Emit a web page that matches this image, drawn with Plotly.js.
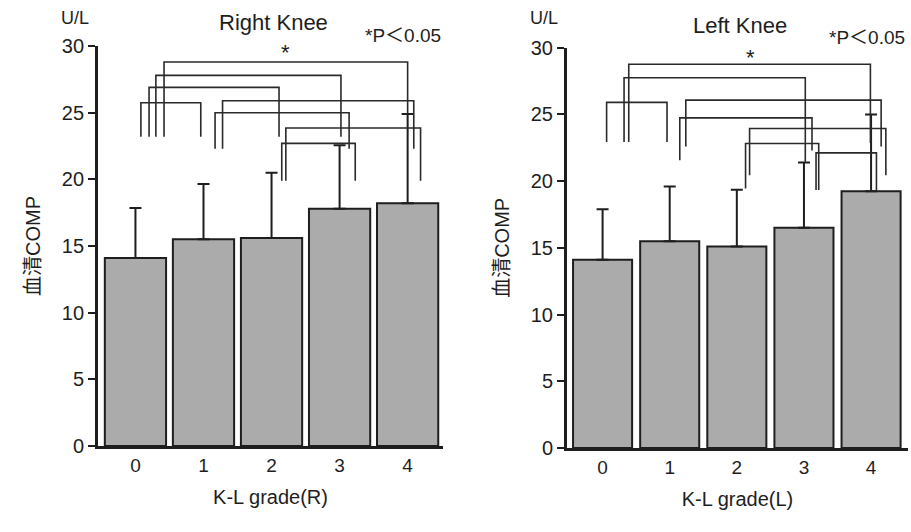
<!DOCTYPE html>
<html>
<head>
<meta charset="utf-8">
<script src="https://cdn.plot.ly/plotly-3.0.1.min.js"></script>
<style>html,body{margin:0;padding:0;background:#fff;}#chart{width:911px;height:532px;}</style>
</head>
<body>
<div id="chart"></div>
<script>
// ---- data ----
const grades = [0, 1, 2, 3, 4];
const gradeLabels = ['0', '1', '2', '3', '4'];
const yTicks = [0, 5, 10, 15, 20, 25, 30];

const rightMean = [14.1, 15.5, 15.6, 17.8, 18.2];
const rightSD   = [3.75, 4.15, 4.9, 4.75, 6.7];
const leftMean  = [14.1, 15.5, 15.1, 16.5, 19.25];
const leftSD    = [3.8, 4.1, 4.25, 4.9, 5.75];

// significance brackets (grade pairs), right knee
const rBrFrom   = [0, 0, 0, 0, 1, 1, 2, 2];
const rBrTo     = [4, 3, 2, 1, 4, 3, 4, 3];
const rBrY      = [28.8, 27.8, 26.9, 25.75, 25.9, 25.0, 23.85, 22.7];
const rBrX1     = [0.42, 0.30, 0.20, 0.08, 1.28, 1.17, 2.21, 2.15];
const rBrX2     = [4.00, 3.02, 2.11, 0.96, 4.09, 3.14, 4.19, 3.23];
const rBrLeg1   = [23.2, 23.2, 23.2, 23.2, 22.3, 22.3, 19.9, 19.9];
const rBrLeg2   = [24.9, 23.2, 23.2, 23.2, 22.3, 22.3, 19.9, 19.9];

// significance brackets (grade pairs), left knee
const lBrFrom   = [0, 0, 0, 1, 1, 2, 2, 3];
const lBrTo     = [4, 3, 1, 4, 3, 4, 3, 4];
const lBrY      = [28.76, 27.75, 25.9, 26.07, 24.74, 23.95, 22.82, 22.12];
const lBrX1     = [0.39, 0.32, 0.06, 1.24, 1.15, 2.19, 2.13, 3.18];
const lBrX2     = [3.99, 3.02, 0.96, 4.15, 3.12, 4.22, 3.22, 4.08];
const lBrLeg1   = [22.94, 22.94, 22.94, 22.6, 21.57, 20.45, 19.45, 19.33];
const lBrLeg2   = [22.85, 21.45, 22.94, 22.6, 22.3, 20.45, 19.33, 19.25];

// ---- styling ----
const FONT = '"Liberation Sans", Arial, "Noto Sans CJK JP", sans-serif';
const INK = '#1e1e1e';
const BAR = '#ababab';

function barTrace(y, sd, xa, ya, w) {
  return {
    type: 'bar', x: grades, y: y, xaxis: xa, yaxis: ya, width: w,
    marker: {color: BAR, line: {color: INK, width: 2}},
    error_y: {type: 'data', array: sd, symmetric: false, arrayminus: sd.map(() => 0),
              color: INK, thickness: 2, width: 6},
    hoverinfo: 'x+y', showlegend: false
  };
}

function bracketShapes(x1, x2, y, b1, b2, xr, yr) {
  return y.map((h, i) => ({
    type: 'path', xref: xr, yref: yr,
    path: `M ${x1[i]} ${b1[i]} L ${x1[i]} ${h} L ${x2[i]} ${h} L ${x2[i]} ${b2[i]}`,
    line: {color: '#2a2a2a', width: 1.6}
  }));
}

const traces = [
  barTrace(rightMean, rightSD, 'x', 'y', 0.9),
  barTrace(leftMean, leftSD, 'x2', 'y2', 0.88)
];

function yAxis(domain, anchor) {
  return {
    domain: domain, anchor: anchor, range: [0, 30], tickvals: yTicks,
    ticks: 'outside', ticklen: 7, tickwidth: 2, tickcolor: INK,
    showline: true, linecolor: INK, linewidth: 3, showgrid: false, zeroline: false,
    tickfont: {family: FONT, size: 20, color: INK},
    title: {text: '血清COMP', font: {family: FONT, size: 20, color: INK}, standoff: 16}
  };
}
function xAxis(domain, anchor, range, label) {
  return {
    domain: domain, anchor: anchor, range: range, tickvals: grades, ticktext: gradeLabels,
    ticks: '', showline: true, linecolor: INK, linewidth: 3, showgrid: false, zeroline: false,
    tickfont: {family: FONT, size: 19, color: INK},
    title: {text: label, font: {family: FONT, size: 20, color: INK}, standoff: 16}
  };
}

const annFont = s => ({family: FONT, size: s, color: INK});
const ann = (x, y, text, size, xa, ya) => ({
  xref: xa || 'paper', yref: ya || 'paper', x: x, y: y, text: text,
  xanchor: 'center', yanchor: 'middle', showarrow: false, font: annFont(size)
});
const layout = {
  width: 911, height: 532,
  margin: {l: 0, r: 0, t: 0, b: 0},
  paper_bgcolor: '#ffffff', plot_bgcolor: 'rgba(0,0,0,0)',
  xaxis: xAxis([0.1076, 0.4863], 'y', [-0.55, 4.52], 'K-L grade(R)'),
  yaxis: yAxis([0.1617, 0.9135], 'x'),
  xaxis2: xAxis([0.6224, 0.9967], 'y2', [-0.53, 4.55], 'K-L grade(L)'),
  yaxis2: yAxis([0.1579, 0.9103], 'x2'),
  shapes: [].concat(
    bracketShapes(rBrX1, rBrX2, rBrY, rBrLeg1, rBrLeg2, 'x', 'y'),
    bracketShapes(lBrX1, lBrX2, lBrY, lBrLeg1, lBrLeg2, 'x2', 'y2')
  ),
  annotations: [
    ann(0.0823, 0.966, 'U/L', 18),
    ann(0.2997, 0.9586, 'Right Knee', 22),
    ann(0.4425, 0.934, '*P＜0.05', 19),
    ann(2.2, 29.55, '*', 22, 'x', 'y'),
    ann(0.5971, 0.966, 'U/L', 18),
    ann(0.8123, 0.953, 'Left Knee', 22),
    ann(0.9517, 0.930, '*P＜0.05', 19),
    ann(2.2, 29.3, '*', 22, 'x2', 'y2')
  ]
};

Plotly.newPlot('chart', traces, layout, {displayModeBar: false, staticPlot: true});
</script>
</body>
</html>
